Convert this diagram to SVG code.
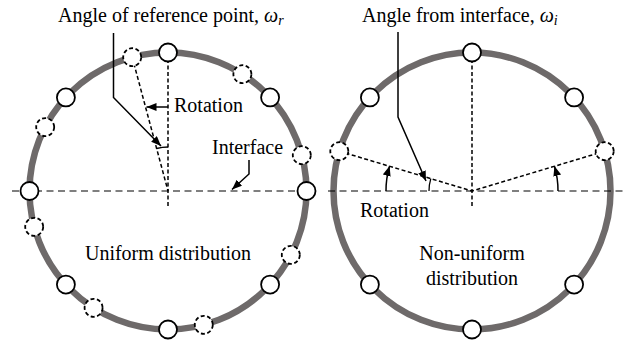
<svg xmlns="http://www.w3.org/2000/svg" width="629" height="343" viewBox="0 0 629 343">
<style>
.ring{fill:none;stroke:#6e6a6a;stroke-width:6.5}
.node{fill:#fff;stroke:#000;stroke-width:1.8}
.dnode{fill:#fff;stroke:#000;stroke-width:1.8;stroke-dasharray:4 2.5}
.axis{fill:none;stroke:#000;stroke-width:1.2;stroke-dasharray:7 4.5}
.radial{fill:none;stroke:#000;stroke-width:1.5;stroke-dasharray:4 2.5}
.lead{fill:none;stroke:#000;stroke-width:1.5;marker-end:url(#ah)}
.mark{fill:none;stroke:#000;stroke-width:1.3}
text{font-family:"Liberation Serif","Times New Roman",serif;font-size:20px;fill:#000}
.it{font-style:italic}
</style>
<defs>
<marker id="ah" markerUnits="userSpaceOnUse" markerWidth="12" markerHeight="10" refX="10" refY="4" orient="auto">
<path d="M0,0 L10,4 L0,8 Z" fill="#000"/>
</marker>
</defs>
<g id="left-circle">
<circle class="ring" cx="168" cy="191" r="138.5"/>
</g>
<g id="right-circle">
<circle class="ring" cx="472" cy="191" r="138.5"/>
</g>
<g id="connectors">
<line class="axis" x1="12" y1="191" x2="315" y2="191"/>
<line class="axis" x1="328" y1="191" x2="627" y2="191"/>
<line class="radial" x1="168" y1="52.5" x2="168" y2="208"/>
<line class="radial" x1="132.2" y1="57.2" x2="168" y2="191"/>
<line class="radial" x1="472" y1="52.5" x2="472" y2="208"/>
<line class="radial" x1="339.3" y1="151.2" x2="472" y2="191"/>
<line class="radial" x1="604.7" y1="151.2" x2="472" y2="191"/>
<line class="lead" x1="168" y1="107" x2="146.5" y2="107"/>
<path class="mark" d="M168,147 A44,44 0 0,0 156.6,148.5"/>
<polyline class="lead" points="113.5,33 113.5,97.5 161,146"/>
<polyline class="lead" points="249,160 249,174 232,189.5"/>
<path class="lead" d="M386,191 A86,86 0 0,1 389.6,166"/>
<path class="lead" d="M558,191 A86,86 0 0,0 554.4,166"/>
<path class="mark" d="M429,191 A43,43 0 0,1 430.8,178.6"/>
<polyline class="lead" points="398,32 398,117 426,181"/>
</g>
<g id="left-nodes">
<circle class="node" cx="306.5" cy="191" r="9"/>
<circle class="node" cx="270.1" cy="97.4" r="9"/>
<circle class="node" cx="168" cy="52.5" r="9"/>
<circle class="node" cx="65.9" cy="97.4" r="9"/>
<circle class="node" cx="29.5" cy="191" r="9"/>
<circle class="node" cx="65.9" cy="284.6" r="9"/>
<circle class="node" cx="168" cy="329.5" r="9"/>
<circle class="node" cx="270.1" cy="284.6" r="9"/>
<circle class="dnode" cx="301.8" cy="155.2" r="9"/>
<circle class="dnode" cx="242.4" cy="74.2" r="9"/>
<circle class="dnode" cx="132.2" cy="57.2" r="9"/>
<circle class="dnode" cx="45.2" cy="127.1" r="9"/>
<circle class="dnode" cx="34.2" cy="226.8" r="9"/>
<circle class="dnode" cx="93.6" cy="307.8" r="9"/>
<circle class="dnode" cx="203.8" cy="324.8" r="9"/>
<circle class="dnode" cx="290.8" cy="254.9" r="9"/>
</g>
<g id="right-nodes">
<circle class="node" cx="574.1" cy="97.4" r="9"/>
<circle class="node" cx="472" cy="52.5" r="9"/>
<circle class="node" cx="369.9" cy="97.4" r="9"/>
<circle class="node" cx="369.9" cy="284.6" r="9"/>
<circle class="node" cx="472" cy="329.5" r="9"/>
<circle class="node" cx="574.1" cy="284.6" r="9"/>
<circle class="dnode" cx="339.3" cy="151.2" r="9"/>
<circle class="dnode" cx="604.7" cy="151.2" r="9"/>
</g>
<g id="labels">
<text x="58" y="22">Angle of reference point, <tspan class="it">ω</tspan><tspan class="it" font-size="14" dy="3">r</tspan></text>
<text x="362" y="22">Angle from interface, <tspan class="it">ω</tspan><tspan class="it" font-size="14" dy="3">i</tspan></text>
<text x="174" y="112">Rotation</text>
<text x="212" y="154">Interface</text>
<text x="168" y="260" text-anchor="middle">Uniform distribution</text>
<text x="360" y="217">Rotation</text>
<text x="472" y="260" text-anchor="middle">Non-uniform</text>
<text x="472" y="285" text-anchor="middle">distribution</text>
</g>
</svg>
